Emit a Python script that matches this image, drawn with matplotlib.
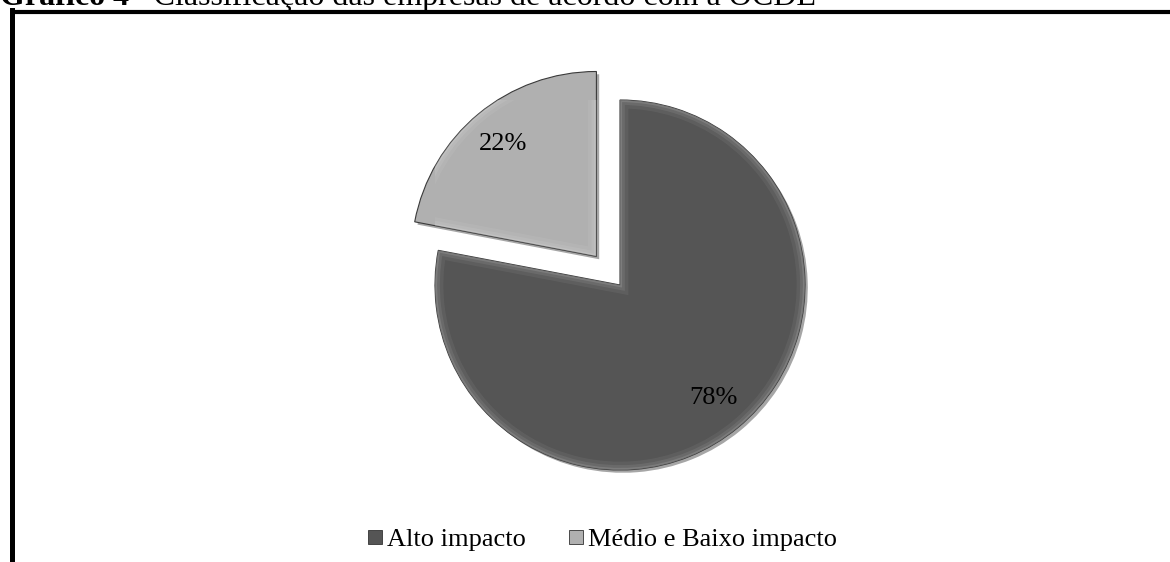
import matplotlib.pyplot as plt
import matplotlib.patheffects as pe
from matplotlib.lines import Line2D
from matplotlib.patches import Wedge

plt.rcParams['font.family'] = ['Liberation Serif', 'DejaVu Serif']

categorias = ['Alto impacto', 'Médio e Baixo impacto']
percentuais = [78, 22]
cores = ['#555555', '#b0b0b0']
afastamento = [0, 0.2]

W, H = 1170, 562
fig = plt.figure(figsize=(W / 100, H / 100), dpi=100)

# pie area: centre (620, 285) px, radius 185 px
cx, cy, r = 620, 285, 185
ax = fig.add_axes([(cx - r) / W, (H - cy - r) / H, 2 * r / W, 2 * r / H])
wedges, textos, autotextos = ax.pie(
    percentuais, colors=cores, explode=afastamento, startangle=90,
    counterclock=False, autopct='%d%%', pctdistance=0.79,
    wedgeprops=dict(edgecolor='#3a3a3a', linewidth=0.8),
    textprops=dict(fontsize=19, color='black'))
for w in wedges:
    w.set_clip_on(False)
    w.set_path_effects([pe.SimplePatchShadow(offset=(2, -2), alpha=0.35, shadow_rgbFace='#000000'),
                        pe.Normal()])
    # soft bevel: light rings kept inside the slice
    for lw, a in [(12, 0.06), (7, 0.08), (3, 0.12)]:
        anel = Wedge(w.center, w.r, w.theta1, w.theta2, facecolor='none',
                     edgecolor='white', linewidth=lw, alpha=a, zorder=w.get_zorder() + 0.1)
        ax.add_patch(anel)
        anel.set_clip_path(w)
for t in autotextos:
    t.set_zorder(5)
ax.set_xlim(-1, 1)
ax.set_ylim(-1, 1)
ax.axis('off')

# legend with square markers
handles = [Line2D([], [], marker='s', linestyle='none', markersize=10,
                  markerfacecolor=c, markeredgecolor='#333333', markeredgewidth=0.6)
           for c in cores]
fig.legend(handles, categorias, loc='center', bbox_to_anchor=(601 / W, 1 - 539 / H),
           ncol=2, frameon=False, fontsize=19, handletextpad=0.05,
           columnspacing=1.5, handlelength=0.8)

# caption above the frame (bold label followed by regular text)
t1 = fig.text(0.0, 1 - 5 / H, 'Gráfico 4', fontsize=23, fontweight='bold',
              va='baseline', ha='left')
renderer = fig.canvas.get_renderer()
x_fim = t1.get_window_extent(renderer).x1
fig.text((x_fim + 6) / W, 1 - 5 / H, '- Classificação das empresas de acordo com a OCDE',
         fontsize=23, va='baseline', ha='left')

# frame: left and top borders
fig.add_artist(Line2D([11.5 / W, 11.5 / W], [0, 1 - 10 / H], color='black',
                      linewidth=3.6, solid_capstyle='projecting', transform=fig.transFigure))
fig.add_artist(Line2D([11.5 / W, 1.0], [1 - 12 / H, 1 - 12 / H], color='black',
                      linewidth=3.0, solid_capstyle='butt', transform=fig.transFigure))

fig.savefig('out.png', dpi=100, facecolor='white')
